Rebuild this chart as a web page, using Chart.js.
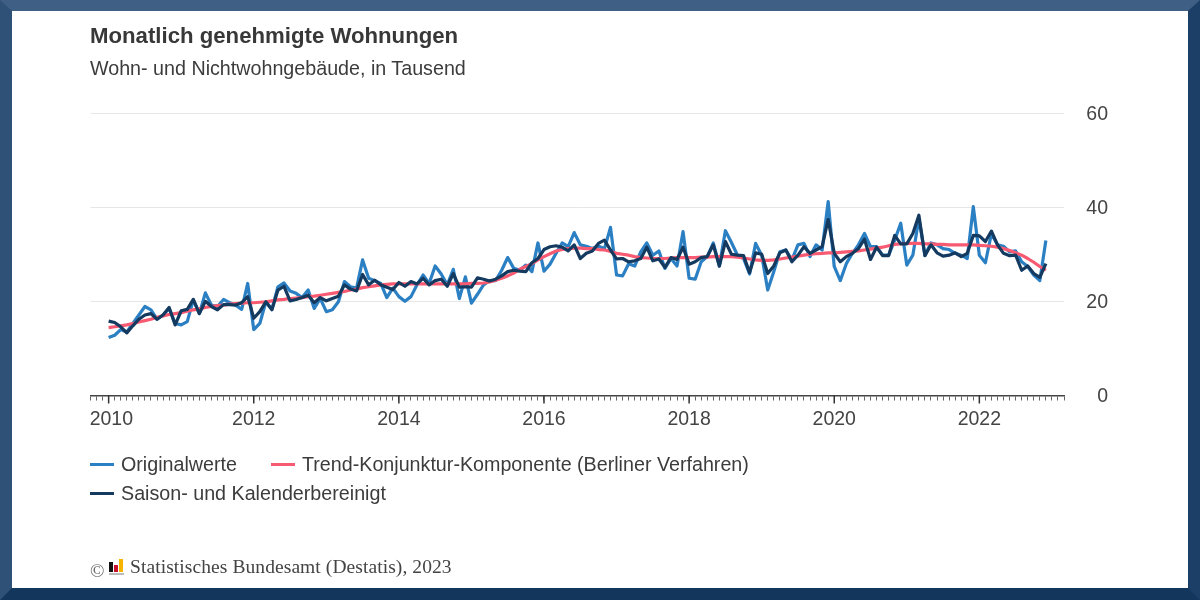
<!DOCTYPE html>
<html lang="de">
<head>
<meta charset="utf-8">
<title>Monatlich genehmigte Wohnungen</title>
<script src="https://cdn.jsdelivr.net/npm/chart.js@4"></script>
<style>
    html, body { margin: 0; padding: 0; background: #fff; }
    #frame {
        position: relative; width: 1200px; height: 600px; box-sizing: border-box; overflow: hidden;
        border-style: solid; border-width: 11px 12px 12px 12px;
        border-color: #3f5f85 #1b3f66 #12365c #2f5077;
        font-family: "Liberation Sans", Arial, sans-serif; color: #3c3c3c;
    }
    #chart { position: absolute; left: -12px; top: -11px; }
    .txt { position: absolute; white-space: nowrap; }
    #title { left: 78px; top: 12px; font-size: 22.2px; font-weight: bold; color: #383838; }
    #subtitle { left: 78px; top: 46px; font-size: 19.7px; }
    .swatch { position: absolute; height: 3px; width: 24px; }
    .legend-text { position: absolute; white-space: nowrap; font-size: 19.7px; }
    #source { left: 118px; top: 545px; font-family: "Liberation Serif", serif; font-size: 19.5px; color: #444; letter-spacing: 0.08px; }
    #copy { left: 78px; top: 549px; font-family: "Liberation Serif", serif; font-size: 19px; color: #666; }
    #logo { position: absolute; left: 97px; top: 549px; width: 15px; height: 15px; border-bottom: 2px solid #bbb; box-sizing: border-box; }
    #logo span { position: absolute; bottom: 1px; width: 4px; }
</style>
</head>
<body>
<div id="frame">
    <canvas id="chart" width="1200" height="600"></canvas>
    <div class="txt" id="title">Monatlich genehmigte Wohnungen</div>
    <div class="txt" id="subtitle">Wohn- und Nichtwohngebäude, in Tausend</div>
    <div id="legend"></div>
    <div class="txt" id="copy">©</div>
    <div id="logo">
        <span style="left:0;height:10px;background:#111"></span>
        <span style="left:5px;height:7px;background:#c8102e"></span>
        <span style="left:10px;height:13px;background:#f5b400"></span>
    </div>
    <div class="txt" id="source">Statistisches Bundesamt (Destatis), 2023</div>
</div>

<script>
// values, one per month from Jan 2010 to Dec 2022
const originalwerte = [
    12.3, 12.8, 14.0, 13.5, 15.3, 17.1, 18.9, 18.2, 16.2, 17.1, 18.5, 15.3,
    15.0, 15.7, 20.3, 17.4, 21.8, 19.2, 18.9, 20.4, 19.7, 19.2, 18.3, 23.8,
    14.0, 15.3, 19.9, 18.3, 23.1, 23.9, 22.2, 21.7, 20.8, 22.4, 18.5, 20.6,
    17.8, 18.2, 19.9, 24.2, 23.1, 22.8, 28.8, 24.9, 24.4, 23.8, 20.8, 22.8,
    21.0, 20.0, 21.0, 23.5, 25.6, 23.8, 27.5, 25.8, 23.5, 26.8, 20.6, 25.2,
    19.6, 21.5, 23.5, 24.4, 24.4, 26.6, 29.3, 27.0, 26.6, 27.7, 26.3, 32.4,
    26.4, 27.9, 30.2, 32.4, 31.6, 34.6, 32.0, 31.7, 31.2, 31.7, 31.2, 35.7,
    25.6, 25.4, 28.0, 27.5, 30.5, 32.4, 29.8, 30.7, 27.0, 29.1, 27.5, 34.8,
    24.9, 24.7, 28.4, 29.5, 32.4, 27.5, 35.0, 32.5, 29.8, 29.1, 25.8, 32.3,
    29.8, 22.4, 26.3, 30.5, 30.9, 28.8, 32.0, 32.3, 29.5, 32.0, 30.9, 41.2,
    27.4, 24.4, 28.0, 30.2, 32.0, 34.4, 31.6, 31.6, 29.8, 29.8, 33.0, 36.6,
    27.7, 29.8, 37.6, 29.8, 32.4, 32.0, 31.2, 31.0, 30.2, 29.8, 29.1, 40.1,
    29.8, 28.2, 34.4, 32.0, 31.7, 30.5, 30.7, 28.4, 27.4, 25.6, 24.4, 32.9
];
const saisonbereinigt = [
    15.8, 15.5, 14.6, 13.3, 14.8, 16.2, 17.1, 17.4, 16.2, 17.1, 18.7, 15.0,
    18.0, 18.3, 20.4, 17.4, 20.0, 18.9, 18.2, 19.3, 19.3, 19.2, 19.7, 21.0,
    16.4, 17.8, 19.9, 18.2, 22.4, 23.2, 20.1, 20.4, 20.8, 21.3, 19.7, 20.8,
    20.1, 20.6, 21.1, 23.5, 22.6, 22.2, 25.7, 23.5, 24.5, 23.5, 23.0, 22.5,
    24.0, 23.2, 24.2, 23.7, 24.9, 23.5, 24.4, 24.7, 23.2, 25.9, 23.0, 23.1,
    23.0, 25.0, 24.7, 24.3, 24.7, 25.4, 26.3, 26.6, 26.4, 26.3, 28.2, 29.1,
    31.0, 31.6, 31.8, 31.5, 30.7, 32.0, 29.1, 30.2, 30.7, 32.3, 33.0, 30.9,
    29.0, 29.1, 28.4, 28.6, 29.1, 31.5, 28.6, 29.0, 27.2, 29.3, 28.9, 31.5,
    27.9, 28.4, 29.3, 29.5, 32.0, 27.5, 32.7, 30.0, 29.8, 29.7, 26.1, 30.3,
    30.0, 25.9, 27.5, 30.3, 30.9, 28.4, 29.8, 31.6, 30.2, 30.9, 31.6, 37.4,
    30.2, 28.4, 29.5, 30.2, 31.2, 33.2, 28.9, 31.5, 29.7, 29.7, 34.0, 32.2,
    32.2, 34.4, 38.3, 29.7, 32.0, 30.3, 29.6, 29.8, 30.3, 29.5, 30.2, 34.0,
    33.9, 32.7, 34.9, 32.0, 30.2, 29.7, 29.8, 26.6, 27.5, 25.9, 25.1, 28.0
];
const trendKonjunktur = [
    14.4, 14.6, 14.8, 15.0, 15.3, 15.6, 15.9, 16.2, 16.6, 16.9, 17.2, 17.4,
    17.6, 17.9, 18.2, 18.4, 18.7, 18.9, 19.1, 19.2, 19.4, 19.5, 19.6, 19.7,
    19.7, 19.8, 19.9, 20.1, 20.3, 20.4, 20.6, 20.7, 20.8, 21.0, 21.1, 21.3,
    21.5, 21.7, 21.9, 22.1, 22.4, 22.6, 22.9, 23.1, 23.3, 23.5, 23.6, 23.7,
    23.7, 23.7, 23.7, 23.7, 23.7, 23.7, 23.7, 23.7, 23.7, 23.7, 23.7, 23.7,
    23.8, 23.8, 23.9, 24.1, 24.5, 24.9, 25.4, 26.0, 26.8, 27.4, 28.0, 28.8,
    29.5, 30.1, 30.7, 31.0, 31.2, 31.3, 31.3, 31.2, 31.2, 31.0, 30.9, 30.6,
    30.2, 30.0, 29.8, 29.5, 29.3, 29.2, 29.1, 29.1, 29.1, 29.2, 29.3, 29.3,
    29.3, 29.3, 29.4, 29.4, 29.5, 29.5, 29.5, 29.5, 29.4, 29.2, 29.0, 28.8,
    28.7, 28.7, 28.8, 29.0, 29.2, 29.4, 29.6, 29.8, 30.0, 30.1, 30.2, 30.3,
    30.3, 30.4, 30.5, 30.6, 30.7, 30.9, 31.1, 31.3, 31.5, 31.8, 32.1, 32.2,
    32.3, 32.3, 32.3, 32.2, 32.2, 32.1, 32.1, 32.0, 32.0, 32.0, 32.0, 32.0,
    31.9, 31.8, 31.7, 31.5, 31.2, 30.8, 30.3, 29.8, 29.1, 28.3, 27.4, 26.6
];
const tickYears = [2010, 2012, 2014, 2016, 2018, 2020, 2022];
const yTicks = [0, 20, 40, 60];

const BLUE = "#2b7fc3";
const RED = "#f85a72";
const NAVY = "#143a60";

const toPoints = values => values.map((v, i) => ({ x: i, y: v }));
const yearOf = idx => 2010 + idx / 12;

// -------- LONG TICKS --------
const yearTicksPlugin = {
    id: "yearTicks",
    afterDraw(chart) {
        const { ctx, scales: { x, y } } = chart;
        const base = y.getPixelForValue(0);
        ctx.save();
        ctx.strokeStyle = "#333";
        ctx.lineWidth = 1.5;
        tickYears.forEach(year => {
            const px = x.getPixelForValue((year - 2010) * 12);
            ctx.beginPath();
            ctx.moveTo(px, base);
            ctx.lineTo(px, base + 8);
            ctx.stroke();
        });
        ctx.restore();
    }
};

// -------- CHART --------
new Chart(document.getElementById("chart"), {
    type: "line",
    data: {
        datasets: [
            { label: "Originalwerte", data: toPoints(originalwerte), borderColor: BLUE, order: 3 },
            { label: "Trend-Konjunktur-Komponente (Berliner Verfahren)", data: toPoints(trendKonjunktur), borderColor: RED, order: 2 },
            { label: "Saison- und Kalenderbereinigt", data: toPoints(saisonbereinigt), borderColor: NAVY, order: 1 }
        ]
    },
    options: {
        responsive: false,
        animation: false,
        parsing: false,
        normalized: true,
        elements: {
            point: { radius: 0 },
            line: { borderWidth: 3.2, tension: 0, borderJoinStyle: "round" }
        },
        layout: { padding: { left: 90.5, top: 113, right: 92, bottom: 0 } },
        plugins: { legend: { display: false }, tooltip: { enabled: false } },
        scales: {
            x: {
                type: "linear",
                min: -3,
                max: 158,
                afterFit: scale => { scale.height = 204.5; },
                border: { display: true, color: "#444", width: 1.5 },
                grid: { drawOnChartArea: false, tickLength: 5, tickColor: "#666", tickWidth: 1 },
                ticks: {
                    stepSize: 1,
                    autoSkip: false,
                    includeBounds: false,
                    maxTicksLimit: 200,
                    maxRotation: 0,
                    minRotation: 0,
                    padding: 7,
                    color: "#444",
                    font: { family: "'Liberation Sans', Arial, sans-serif", size: 19.5 },
                    callback: v => {
                        if (!tickYears.includes(yearOf(v))) return "";
                        return v === 0 ? " " + yearOf(v) : String(yearOf(v));
                    }
                }
            },
            y: {
                position: "right",
                min: 0,
                max: 60,
                afterFit: scale => { scale.width = 44; },
                border: { display: false },
                grid: {
                    drawTicks: false,
                    color: ctx => (ctx.tick && ctx.tick.value === 0 ? "rgba(0,0,0,0)" : "#e6e6e6"),
                    lineWidth: 1
                },
                afterBuildTicks: scale => { scale.ticks = yTicks.map(v => ({ value: v })); },
                ticks: {
                    crossAlign: "far",
                    padding: 22,
                    labelOffset: 1.5,
                    color: "#444",
                    font: { family: "'Liberation Sans', Arial, sans-serif", size: 19.5 }
                }
            }
        }
    },
    plugins: [yearTicksPlugin]
});

// -------- LEGEND --------
const legendItems = [
    { label: "Originalwerte", color: BLUE, left: 78, top: 452 },
    { label: "Trend-Konjunktur-Komponente (Berliner Verfahren)", color: RED, left: 259, top: 452 },
    { label: "Saison- und Kalenderbereinigt", color: NAVY, left: 78, top: 481 }
];
const legendEl = document.getElementById("legend");
legendItems.forEach(item => {
    const sw = document.createElement("div");
    sw.className = "swatch";
    sw.style.cssText = `left:${item.left}px;top:${item.top}px;background:${item.color}`;
    const txt = document.createElement("div");
    txt.className = "legend-text";
    txt.style.cssText = `left:${item.left + 31}px;top:${item.top - 10}px`;
    txt.textContent = item.label;
    legendEl.append(sw, txt);
});
</script>
</body>
</html>
